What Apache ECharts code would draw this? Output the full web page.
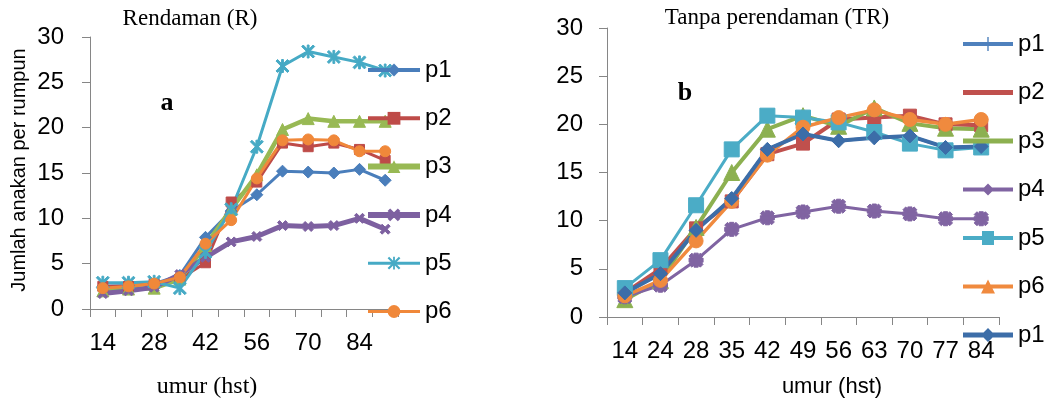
<!DOCTYPE html>
<html>
<head>
<meta charset="utf-8">
<script src="https://cdn.jsdelivr.net/npm/echarts@6/dist/echarts.min.js"></script>
<style>
  html, body { margin: 0; padding: 0; background: #fff; }
  #chart { width: 1063px; height: 403px; }
</style>
</head>
<body>
<div id="chart"></div>
<script>
// panel a - Rendaman (R)
const daysR = ['14', '21', '28', '35', '42', '49', '56', '63', '70', '77', '84', '91']
const rP1 = [2.5, 2.6, 2.8, 3.7, 7.9, 10.8, 12.6, 15.2, 15.1, 15.0, 15.4, 14.2]
const rP2 = [2.5, 2.5, 2.8, 3.3, 5.1, 11.8, 14.0, 18.3, 17.9, 18.3, 17.6, 16.4]
const rP3 = [2.0, 2.2, 2.3, 3.3, 7.0, 11.0, 14.8, 19.8, 21.0, 20.7, 20.7, 20.7]
const rP4 = [1.7, 2.0, 2.4, 3.8, 5.7, 7.4, 8.0, 9.2, 9.1, 9.2, 10.0, 8.8]
const rP5 = [2.9, 2.9, 3.0, 2.3, 6.3, 11.0, 17.9, 26.8, 28.4, 27.8, 27.2, 26.3]
const rP6 = [2.3, 2.5, 2.8, 3.5, 7.2, 9.8, 14.4, 18.6, 18.7, 18.6, 17.4, 17.4]

// panel b - Tanpa perendaman (TR)
const daysTR = ['14', '24', '28', '35', '42', '49', '56', '63', '70', '77', '84']
const trP1 = [2.5, 4.5, 9.0, 12.3, 17.4, 19.0, 18.3, 18.6, 18.8, 17.6, 17.7]
const trP2 = [2.5, 5.0, 9.2, 12.0, 16.9, 18.0, 20.5, 20.7, 20.9, 20.0, 19.9]
const trP3 = [1.8, 3.8, 9.3, 15.0, 19.5, 20.9, 19.8, 21.7, 20.1, 19.6, 19.5]
const trP4 = [2.1, 3.3, 5.9, 9.1, 10.3, 10.9, 11.5, 11.0, 10.7, 10.2, 10.2]
const trP5 = [3.0, 5.9, 11.6, 17.4, 20.9, 20.7, 20.2, 19.2, 18.0, 17.3, 17.6]
const trP6 = [2.2, 3.8, 7.9, 12.0, 16.8, 19.7, 20.7, 21.5, 20.5, 20.0, 20.5]

const yTicks = { min: 0, max: 30, interval: 5 }

const sans = 'Liberation Sans'
const serif = 'Liberation Serif'
const axisGrey = '#868686'

// marker shapes excel uses
const xMark = 'path://M0,2 L2,0 L5,3 L8,0 L10,2 L7,5 L10,8 L8,10 L5,7 L2,10 L0,8 L3,5 Z'
const starMark = 'path://M4.3,0 H5.7 V10 H4.3 Z M0,1.2 L1.2,0 L10,8.8 L8.8,10 Z M8.8,0 L10,1.2 L1.2,10 L0,8.8 Z'
const fatStar = 'path://M3.5,0 H6.5 V10 H3.5 Z M0,2 L2,0 L10,8 L8,10 Z M8,0 L10,2 L2,10 L0,8 Z M0,3.5 H10 V6.5 H0 Z'
const plusMark = 'path://M4.2,0 H5.8 V4.2 H10 V5.8 H5.8 V10 H4.2 V5.8 H0 V4.2 H4.2 Z'

// legend icons for panel b (line + marker)
const corners = 'M0,0 L0.01,0 L0,0.01 Z M50,14 L49.99,14 L50,13.99 Z '
const bar = 'M0,5 H50 V9 H0 Z '
const icons = {
  p1: 'path://' + corners + bar + 'M24.3,0 H25.7 V14 H24.3 Z',
  p2: 'path://' + corners + 'M0,4.5 H50 V9.5 H0 Z',
  p3: 'path://' + corners + 'M0,4.5 H50 V9.5 H0 Z',
  p4: 'path://' + corners + bar + 'M25,1 L31,7 L25,13 L19,7 Z',
  p5: 'path://' + corners + bar + 'M19,0 H31 V14 H19 Z',
  p6: 'path://' + corners + bar + 'M25,0 L32,14 L18,14 Z',
  p1b: 'path://' + corners + 'M0,4.5 H50 V9.5 H0 Z M25,0 L32,7 L25,14 L18,7 Z'
}

function line (name, data, color, symbol, size, width, idx) {
  return {
    type: 'line',
    name: name,
    data: data,
    xAxisIndex: idx,
    yAxisIndex: idx,
    symbol: symbol,
    symbolSize: size,
    lineStyle: { color: color, width: width },
    itemStyle: { color: color, borderColor: color },
    emphasis: { disabled: true },
    animation: false
  }
}

function yAxis (idx, margin) {
  return {
    type: 'value',
    gridIndex: idx,
    min: yTicks.min,
    max: yTicks.max,
    interval: yTicks.interval,
    axisLine: { show: true, lineStyle: { color: axisGrey, width: 1 } },
    axisTick: { show: true, length: 8, lineStyle: { color: axisGrey } },
    splitLine: { show: false },
    axisLabel: { color: '#000', fontFamily: sans, fontSize: 24, margin: margin }
  }
}

function xAxis (idx, cats, labelInterval) {
  return {
    type: 'category',
    gridIndex: idx,
    data: cats,
    axisLine: { show: true, lineStyle: { color: axisGrey, width: 1 } },
    axisTick: { show: true, length: 8, interval: 0, lineStyle: { color: axisGrey } },
    splitLine: { show: false },
    axisLabel: { color: '#000', fontFamily: sans, fontSize: 24, margin: 22, interval: labelInterval }
  }
}

function label (text, x, y, font, rot) {
  return {
    type: 'text',
    x: x,
    y: y,
    rotation: rot || 0,
    style: {
      text: text,
      font: font,
      fill: '#000',
      align: 'center',
      verticalAlign: 'middle',
      textAlign: 'center',
      textVerticalAlign: 'middle'
    }
  }
}

const chart = echarts.init(document.getElementById('chart'), null, { renderer: 'canvas' })

chart.setOption({
  backgroundColor: '#fff',
  animation: false,
  grid: [
    { left: 90, top: 37, width: 308, height: 272, outerBoundsMode: 'none' },
    { left: 607, top: 28, width: 392, height: 289, outerBoundsMode: 'none' }
  ],
  xAxis: [xAxis(0, daysR, 1), xAxis(1, daysTR, 0)],
  yAxis: [yAxis(0, 26), yAxis(1, 24)],
  legend: [
    {
      orient: 'vertical',
      left: 360,
      top: 53,
      itemWidth: 52,
      itemHeight: 16,
      itemGap: 24.3,
      selectedMode: false,
      data: [
        { name: 'p1', lineStyle: { width: 4 } },
        { name: 'p2', lineStyle: { width: 4 } },
        { name: 'p3', lineStyle: { width: 6 } },
        { name: 'p4', lineStyle: { width: 6 } },
        { name: 'p5', lineStyle: { width: 3 } },
        { name: 'p6', lineStyle: { width: 3 } }
      ],
      textStyle: { color: '#000', fontFamily: sans, fontSize: 24, lineHeight: 24 }
    },
    {
      orient: 'vertical',
      left: 958,
      top: 27,
      itemWidth: 50,
      itemHeight: 14,
      itemGap: 24.5,
      selectedMode: false,
      formatter: n => n.split('_')[0],
      data: [
        { name: 'p1_b', icon: icons.p1 },
        { name: 'p2_b', icon: icons.p2 },
        { name: 'p3_b', icon: icons.p3 },
        { name: 'p4_b', icon: icons.p4 },
        { name: 'p5_b', icon: icons.p5 },
        { name: 'p6_b', icon: icons.p6 },
        { name: 'p1_b2', icon: icons.p1b }
      ],
      textStyle: { color: '#000', fontFamily: sans, fontSize: 24, lineHeight: 24 }
    }
  ],
  series: [
    line('p1', rP1, '#4A7EBB', 'diamond', 12, 3, 0),
    line('p2', rP2, '#BE4B48', 'rect', 10, 3, 0),
    line('p3', rP3, '#98B954', 'triangle', 12, 4.5, 0),
    line('p4', rP4, '#7D60A0', xMark, 10, 5, 0),
    line('p5', rP5, '#46AAC5', starMark, 13, 3, 0),
    line('p6', rP6, '#F0883A', 'circle', 11, 3, 0),

    line('p1_b', trP1, '#4F81BD', plusMark, 12, 3, 1),
    line('p2_b', trP2, '#C0504D', 'rect', 13, 4, 1),
    line('p3_b', trP3, '#8CB050', 'triangle', 16, 4, 1),
    line('p4_b', trP4, '#8064A2', fatStar, 14, 3, 1),
    line('p5_b', trP5, '#4BACC6', 'rect', 15, 3, 1),
    line('p6_b', trP6, '#F08A3E', 'circle', 14, 3.5, 1),
    line('p1_b2', trP1, '#3C6DA8', 'diamond', 14, 4, 1)
  ],
  graphic: [
    label('Rendaman (R)', 190, 19, '23px ' + serif),
    label('Tanpa perendaman (TR)', 777, 18, '23px ' + serif),
    label('a', 167, 103, 'bold 26px ' + serif),
    label('b', 685, 93, 'bold 26px ' + serif),
    label('umur (hst)', 207, 387, '24px ' + serif),
    label('umur (hst)', 832, 387, '22px ' + sans),
    label('Jumlah anakan per rumpun', 19, 170, '20px ' + sans, Math.PI / 2)
  ]
})
</script>
</body>
</html>
